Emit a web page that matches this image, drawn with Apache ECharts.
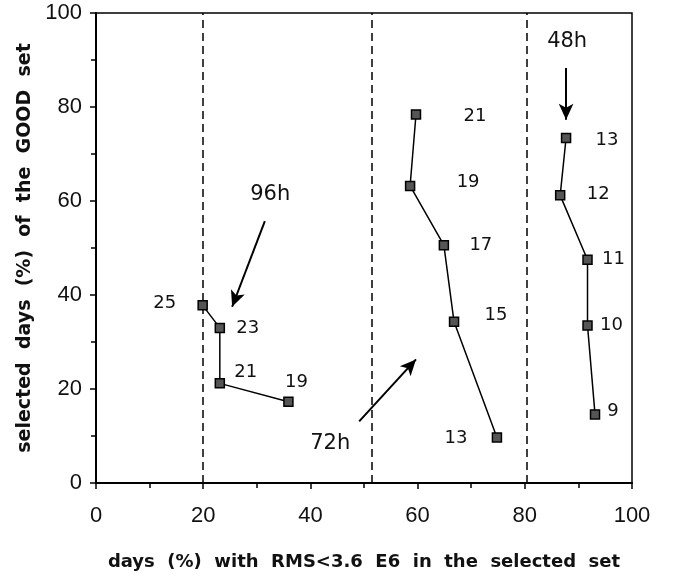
<!DOCTYPE html>
<html>
<head>
<meta charset="utf-8">
<script src="https://cdn.jsdelivr.net/npm/echarts@6/dist/echarts.min.js"></script>
<style>
  html, body { margin: 0; padding: 0; background: #fff; }
  #chart { width: 676px; height: 576px; }
</style>
</head>
<body>
<div id="chart"></div>
<script>
// data
var h96x = [19.9, 23.1, 23.1, 35.9];
var h96y = [37.8, 33.0, 21.2, 17.3];
var h96lbl = ['25', '23', '21', '19'];

var h72x = [59.7, 58.6, 64.9, 66.8, 74.8];
var h72y = [78.4, 63.2, 50.6, 34.3, 9.7];
var h72lbl = ['21', '19', '17', '15', '13'];

var h48x = [87.7, 86.6, 91.7, 91.7, 93.1];
var h48y = [73.4, 61.2, 47.5, 33.5, 14.6];
var h48lbl = ['13', '12', '11', '10', '9'];

var dashX = [20, 51.5, 80.3];

var arrowNames = ['96h', '72h', '48h'];
var arrowFrom = [[31.5, 55.7], [49.1, 13.1], [87.7, 88.3]];
var arrowTo = [[25.4, 37.5], [59.7, 26.3], [87.7, 77.3]];
var arrowText = [[32.5, 61.4], [43.7, 8.5], [87.9, 93.9]];

// label offsets (pixels) for the point numbers
var h96off = [[-38, -2], [28, 0], [26, -11], [8, -19]];
var h72off = [[59, 2], [58, -4], [37, 0], [42, -6], [-41, 1]];
var h48off = [[41, 2], [38, -1], [26, 0], [24, 0], [18, -3]];

var font = '"Liberation Sans", Arial, sans-serif';
var wide = '"DejaVu Sans", Verdana, sans-serif';

function pts(xs, ys, lbl, off) {
	return xs.map(function (x, i) {
		return {
			value: [x, ys[i]],
			label: {
				show: true,
				position: 'inside',
				offset: off[i],
				formatter: lbl[i]
			}
		};
	});
}

function lineSeries(name, data) {
	return {
		name: name,
		type: 'line',
		data: data,
		symbol: 'rect',
		symbolSize: 9,
		lineStyle: { color: '#000', width: 1.5 },
		itemStyle: { color: '#555', borderColor: '#000', borderWidth: 1.5 },
		label: { color: '#111', fontSize: 18, fontFamily: wide },
		z: 5
	};
}

var chart = echarts.init(document.getElementById('chart'));
var option = {
	animation: false,
	grid: {
		left: 96, right: 44, top: 13, bottom: 91,
		show: true, borderColor: '#000', borderWidth: 1.5
	},
	xAxis: {
		type: 'value',
		min: 0, max: 100, interval: 20,
		name: 'days  (%)  with  RMS<3.6  E6  in  the  selected  set',
		nameLocation: 'middle',
		nameGap: 70,
		nameTextStyle: { color: '#111', fontSize: 18, fontWeight: 'bold', fontFamily: wide },
		axisLine: { lineStyle: { color: '#000', width: 2 } },
		axisTick: { length: 6, lineStyle: { color: '#000', width: 1.5 } },
		minorTick: { show: true, splitNumber: 2, length: 5, lineStyle: { color: '#000', width: 1.5 } },
		splitLine: { show: false },
		axisLabel: { color: '#111', fontSize: 22, fontFamily: font, margin: 22 }
	},
	yAxis: {
		type: 'value',
		min: 0, max: 100, interval: 20,
		name: 'selected  days  (%)  of  the  GOOD  set',
		nameLocation: 'middle',
		nameGap: 60,
		nameTextStyle: { color: '#111', fontSize: 19, fontWeight: 'bold', fontFamily: wide },
		axisLine: { lineStyle: { color: '#000', width: 2 } },
		axisTick: { length: 6, lineStyle: { color: '#000', width: 1.5 } },
		minorTick: { show: true, splitNumber: 2, length: 5, lineStyle: { color: '#000', width: 1.5 } },
		splitLine: { show: false },
		axisLabel: { color: '#111', fontSize: 22, fontFamily: font, margin: 14 }
	},
	series: [
		lineSeries('96h', pts(h96x, h96y, h96lbl, h96off)),
		lineSeries('72h', pts(h72x, h72y, h72lbl, h72off)),
		lineSeries('48h', pts(h48x, h48y, h48lbl, h48off)),
		{
			name: 'marks',
			type: 'line',
			data: [],
			markLine: {
				silent: true,
				symbol: 'none',
				label: { show: false },
				lineStyle: { color: '#000', type: [8, 5], width: 1.5 },
				data: dashX.map(function (x) { return { xAxis: x }; })
			},
			markPoint: {
				silent: true,
				symbol: 'circle',
				symbolSize: 0,
				label: { show: true, color: '#111', fontSize: 21, fontFamily: wide },
				data: arrowNames.map(function (n, i) {
					return { coord: arrowText[i], label: { formatter: n } };
				})
			}
		},
		{
			name: 'arrows',
			type: 'line',
			data: [],
			markLine: {
				silent: true,
				symbol: ['none', 'arrow'],
				symbolSize: [11, 16],
				label: { show: false },
				lineStyle: { color: '#000', type: 'solid', width: 2 },
				data: arrowFrom.map(function (f, i) {
					return [{ coord: f }, { coord: arrowTo[i] }];
				})
			}
		}
	]
};
chart.setOption(option);
window.addEventListener('resize', chart.resize);
</script>
</body>
</html>
